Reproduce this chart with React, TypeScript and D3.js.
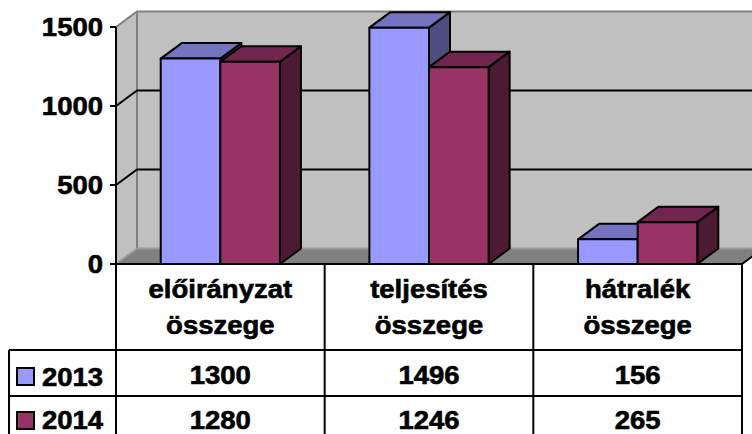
import React, { useRef, useEffect } from 'react';
import * as d3 from 'd3';

const categories = ['előirányzat összege', 'teljesítés összege', 'hátralék összege'];
const seriesNames = ['2013', '2014'];
const values2013 = [1300, 1496, 156];
const values2014 = [1280, 1246, 265];
const yTicks = [0, 500, 1000, 1500];

const seriesColors = [
  { front: '#9999FF', top: '#7373BF', side: '#4D4D80' },
  { front: '#993366', top: '#73264D', side: '#4D1A33' },
];

const width = 752;
const height = 434;
const left = 116;
const right = 742;
const floorY = 264;
const topY = 27;
const dx = 21;
const dy = -15.5;
const tableLeft = 9;
const rowLines = [350, 396];
const fontFamily = 'Arial, "Liberation Sans", Helvetica, sans-serif';
const stretch = 1.1;

const App: React.FC = () => {
  const svgRef = useRef<SVGSVGElement>(null);

  useEffect(() => {
    if (!svgRef.current) return;
    const svg = d3.select(svgRef.current);
    svg.selectAll('*').remove();

    const series = [values2013, values2014];
    const x = d3.scaleBand<string>().domain(categories).range([left, right]);
    const xs = d3.scaleBand<string>()
      .domain(seriesNames)
      .range([0, x.bandwidth()])
      .paddingInner(0)
      .paddingOuter(0.75);
    const y = d3.scaleLinear().domain([0, 1500]).range([floorY, topY]);

    const pts = (arr: number[][]) => arr.map(p => p.join(',')).join(' ');
    const addText = (tx: number, ty: number, str: string, anchor: string) =>
      svg.append('text')
        .attr('transform', `translate(${tx},${ty}) scale(${stretch},1)`)
        .attr('text-anchor', anchor)
        .attr('font-family', fontFamily)
        .attr('font-weight', 'bold')
        .attr('font-size', 25)
        .attr('fill', '#000')
        .attr('stroke', '#000')
        .attr('stroke-width', 0.6)
        .text(str);

    const wallTop = y(1500);

    // walls + floor
    svg.append('polygon')
      .attr('points', pts([[left, floorY], [left, wallTop], [left + dx, wallTop + dy], [left + dx, floorY + dy]]))
      .attr('fill', '#C0C0C0');
    svg.append('rect')
      .attr('x', left + dx).attr('y', wallTop + dy)
      .attr('width', right - left).attr('height', floorY - wallTop)
      .attr('fill', '#C0C0C0');
    svg.append('polygon')
      .attr('points', pts([[left, floorY], [right, floorY], [right + dx, floorY + dy], [left + dx, floorY + dy]]))
      .attr('fill', '#808080');

    // wall edges
    svg.append('polyline')
      .attr('points', pts([[left, wallTop], [left + dx, wallTop + dy], [right + dx, wallTop + dy]]))
      .attr('fill', 'none').attr('stroke', '#808080').attr('stroke-width', 2);
    svg.append('line')
      .attr('x1', left + dx).attr('x2', left + dx)
      .attr('y1', wallTop + dy).attr('y2', floorY + dy)
      .attr('stroke', '#808080').attr('stroke-width', 2);
    svg.append('polyline')
      .attr('points', pts([[left, floorY], [left + dx, floorY + dy], [right + dx, floorY + dy]]))
      .attr('fill', 'none').attr('stroke', '#9A9A9A').attr('stroke-width', 2);

    // gridlines
    yTicks.filter(t => t > 0 && t < 1500).forEach(t => {
      svg.append('polyline')
        .attr('points', pts([[left, y(t)], [left + dx, y(t) + dy], [right + dx, y(t) + dy]]))
        .attr('fill', 'none').attr('stroke', '#000').attr('stroke-width', 2);
    });

    // bars
    categories.forEach((cat, i) => {
      seriesNames.forEach((name, s) => {
        const x0 = (x(cat) ?? 0) + (xs(name) ?? 0);
        const x1 = x0 + xs.bandwidth();
        const yt = y(series[s][i]);
        const c = seriesColors[s];
        const g = svg.append('g')
          .attr('stroke', '#000').attr('stroke-width', 2).attr('stroke-linejoin', 'round');
        g.append('polygon')
          .attr('points', pts([[x1, yt], [x1 + dx, yt + dy], [x1 + dx, floorY + dy], [x1, floorY]]))
          .attr('fill', c.side);
        g.append('polygon')
          .attr('points', pts([[x0, yt], [x1, yt], [x1 + dx, yt + dy], [x0 + dx, yt + dy]]))
          .attr('fill', c.top);
        g.append('rect')
          .attr('x', x0).attr('y', yt)
          .attr('width', x1 - x0).attr('height', floorY - yt)
          .attr('fill', c.front);
      });
    });

    // floor right edge
    svg.append('line')
      .attr('x1', right).attr('y1', floorY).attr('x2', right + dx).attr('y2', floorY + dy)
      .attr('stroke', '#000').attr('stroke-width', 2);

    // axis + ticks
    svg.append('line')
      .attr('x1', left).attr('x2', left).attr('y1', wallTop).attr('y2', height)
      .attr('stroke', '#000').attr('stroke-width', 2);
    yTicks.forEach(t => {
      svg.append('line')
        .attr('x1', left - 6).attr('x2', left).attr('y1', y(t)).attr('y2', y(t))
        .attr('stroke', '#000').attr('stroke-width', 2);
      addText(103, y(t) + 9, String(t), 'end');
    });

    // data table
    svg.append('line')
      .attr('x1', left).attr('x2', right).attr('y1', floorY).attr('y2', floorY)
      .attr('stroke', '#000').attr('stroke-width', 2);
    rowLines.forEach(ry => {
      svg.append('line')
        .attr('x1', tableLeft).attr('x2', right).attr('y1', ry).attr('y2', ry)
        .attr('stroke', '#000').attr('stroke-width', 2);
    });
    svg.append('line')
      .attr('x1', tableLeft).attr('x2', tableLeft).attr('y1', rowLines[0]).attr('y2', height)
      .attr('stroke', '#000').attr('stroke-width', 2);
    categories.forEach(cat => {
      const xe = (x(cat) ?? 0) + x.bandwidth();
      svg.append('line')
        .attr('x1', xe).attr('x2', xe).attr('y1', floorY).attr('y2', height)
        .attr('stroke', '#000').attr('stroke-width', 2);
    });

    categories.forEach((cat, i) => {
      const cx = (x(cat) ?? 0) + x.bandwidth() / 2;
      const words = cat.split(' ');
      words.forEach((w, k) => addText(cx, 298 + k * 36, w, 'middle'));
      series.forEach((vals, s) => addText(cx, 383.5 + s * 45, String(vals[i]), 'middle'));
    });

    seriesNames.forEach((name, s) => {
      const by = 386 + s * 44;
      svg.append('rect')
        .attr('x', 17).attr('y', by - 18).attr('width', 17).attr('height', 17)
        .attr('fill', seriesColors[s].front)
        .attr('stroke', '#000').attr('stroke-width', 2);
      addText(42, by - (s ? 1 : 0), name, 'start');
    });
  }, []);

  return (
    <svg
      ref={svgRef}
      width={width}
      height={height}
      style={{ position: 'absolute', left: 0, top: 0, background: '#fff' }}
    />
  );
};

export default App;
